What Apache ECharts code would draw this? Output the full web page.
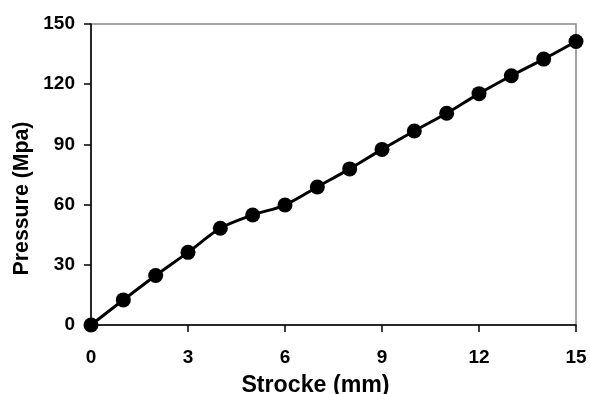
<!DOCTYPE html>
<html>
<head>
<meta charset="utf-8">
<script src="https://cdn.jsdelivr.net/npm/echarts@6/dist/echarts.min.js"></script>
<style>html,body{margin:0;padding:0;background:#fff}#c{width:590px;height:394px}</style>
</head>
<body>
<div id="c"></div>
<script>
const stroke = [0, 1, 2, 3, 4, 5, 6, 7, 8, 9, 10, 11, 12, 13, 14, 15];
const pressure = [0, 12.5, 24.7, 36.2, 48.2, 54.8, 59.8, 68.8, 77.8, 87.5, 96.7, 105.5, 115.3, 124.2, 132.5, 141.3];
const xTitle = 'Strocke (mm)';
const yTitle = 'Pressure (Mpa)';

const font = '"Liberation Sans", Arial, sans-serif';
const chart = echarts.init(document.getElementById('c'), null, {renderer: 'canvas'});
chart.setOption({
  animation: false,
  backgroundColor: '#fff',
  grid: {left: 91, right: 14, top: 24, bottom: 69, outerBoundsMode: 'none', containLabel: false, show: true, borderColor: '#888', borderWidth: 1.5, backgroundColor: 'transparent'},
  xAxis: {
    type: 'value', min: 0, max: 15, interval: 3,
    name: xTitle, nameLocation: 'middle', nameGap: 49,
    nameTextStyle: {fontFamily: font, fontWeight: 'bold', fontSize: 23.2, color: '#000', padding: [0, 36, 0, 0]},
    axisLine: {show: true, onZero: false, lineStyle: {color: '#000', width: 1.5}},
    axisTick: {show: true, inside: false, length: 7, lineStyle: {color: '#000', width: 1.5}},
    axisLabel: {fontFamily: font, fontWeight: 'bold', fontSize: 19, color: '#000', margin: 23},
    splitLine: {show: false}
  },
  yAxis: {
    type: 'value', min: 0, max: 150, interval: 30,
    name: yTitle, nameLocation: 'middle', nameGap: 57, nameRotate: 90,
    nameTextStyle: {fontFamily: font, fontWeight: 'bold', fontSize: 21.3, color: '#000', padding: [0, 48, 0, 0]},
    axisLine: {show: true, onZero: false, lineStyle: {color: '#000', width: 1.5}},
    axisTick: {show: true, inside: false, length: 7, lineStyle: {color: '#000', width: 1.5}},
    axisLabel: {fontFamily: font, fontWeight: 'bold', fontSize: 19, color: '#000', margin: 16},
    splitLine: {show: false}
  },
  series: [{
    type: 'line',
    data: stroke.map((x, i) => [x, pressure[i]]),
    smooth: 0.3,
    symbol: 'circle', symbolSize: 15,
    itemStyle: {color: '#000'},
    lineStyle: {color: '#000', width: 3},
    clip: false
  }]
});
</script>
</body>
</html>
